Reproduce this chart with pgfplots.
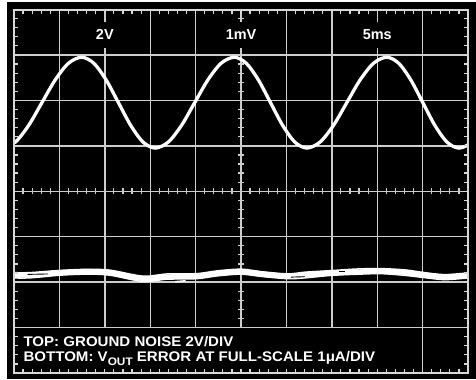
\documentclass[border=0pt]{standalone}
\usepackage{pgfplots}
\pgfplotsset{compat=1.18}
\usepackage{fontspec}
\setmainfont{Liberation Sans}
\definecolor{gridc}{RGB}{205,205,205}
\definecolor{bordc}{RGB}{215,215,215}
\begin{document}
\begin{tikzpicture}[x=1bp,y=1bp]
\fill[white] (0,0) rectangle (476,379);
\fill[black] (7,0) rectangle (476,377);
\begin{axis}[at={(14bp,6bp)},anchor=south west,scale only axis,
  width=454bp,height=363.5bp,xmin=0,xmax=10,ymin=0,ymax=8,
  hide axis,clip mode=individual]
% grid
\pgfplotsinvokeforeach{1,2,3,4,5,6,7,8}{\draw[gridc,line width=1.4bp] (axis cs:#1,1) -- (axis cs:#1,8);}
\draw[gridc,line width=1.4bp] (axis cs:9,0) -- (axis cs:9,8);
\pgfplotsinvokeforeach{1,2,3,4,5,6,7}{\draw[gridc,line width=1.4bp] (axis cs:0,#1) -- (axis cs:10,#1);}
% centre ticks
\pgfplotsinvokeforeach{1.2,1.4,...,7.9}{\draw[gridc,line width=1.2bp] (axis cs:5,#1) ++(-3bp,0bp) -- ++(6bp,0bp);}
\pgfplotsinvokeforeach{0.2,0.4,...,9.9}{\draw[gridc,line width=1.2bp] (axis cs:#1,4) ++(0bp,-3bp) -- ++(0bp,6bp);}
% scale labels
\node[fill=black,text=white,inner xsep=3bp,inner ysep=8bp,font=\fontsize{14.5}{14.5}\selectfont\bfseries] at (axis cs:2,7.445) {2V};
\node[fill=black,text=white,inner xsep=3bp,inner ysep=8bp,font=\fontsize{14.5}{14.5}\selectfont\bfseries] at (axis cs:5,7.445) {1mV};
\node[fill=black,text=white,inner xsep=3bp,inner ysep=8bp,font=\fontsize{14.5}{14.5}\selectfont\bfseries] at (axis cs:8,7.445) {5ms};
% top trace: ground noise
\addplot[white,line width=3.3bp,smooth] coordinates {
(-0.26,4.95) (0.032,5.084) (0.323,5.45) (0.615,5.95) (0.907,6.45) (1.198,6.816) (1.49,6.95)
(1.76,6.816) (2.03,6.45) (2.30,5.95) (2.57,5.45) (2.84,5.084) (3.11,4.95)
(3.40,5.084) (3.69,5.45) (3.98,5.95) (4.27,6.45) (4.56,6.816) (4.85,6.95)
(5.117,6.816) (5.383,6.45) (5.65,5.95) (5.917,5.45) (6.183,5.084) (6.45,4.95)
(6.743,5.084) (7.037,5.45) (7.33,5.95) (7.623,6.45) (7.917,6.816) (8.21,6.95)
(8.475,6.816) (8.74,6.45) (9.005,5.95) (9.27,5.45) (9.535,5.084) (9.80,4.95)
(10.092,5.084) (10.383,5.45)};
% bottom trace: VOUT error
\addplot[white,line width=5bp,smooth] coordinates {
(0,2.148) (0.352,2.159) (1.013,2.203) (1.608,2.236) (2.115,2.203) (2.841,2.081)
(3.370,2.115) (4.031,2.137) (4.471,2.192) (5.0,2.225) (5.485,2.181) (6.035,2.126)
(6.41,2.159) (6.982,2.203) (7.577,2.225) (8.084,2.247) (8.612,2.214) (9.053,2.148)
(9.493,2.115) (10,2.148)};
\addplot[white,line width=1.5bp,smooth] coordinates {
(0,2.208) (0.352,2.209) (1.013,2.258) (1.608,2.281) (2.115,2.263) (2.841,2.131)
(3.370,2.180) (4.031,2.187) (4.471,2.247) (5.0,2.285) (5.485,2.226) (6.035,2.181)
(6.41,2.219) (6.982,2.253) (7.577,2.290) (8.084,2.297) (8.612,2.269) (9.053,2.208)
(9.493,2.165) (10,2.203)};
\addplot[white,line width=1.5bp,smooth] coordinates {
(0,2.093) (0.352,2.094) (1.013,2.153) (1.608,2.176) (2.115,2.153) (2.841,2.016)
(3.370,2.065) (4.031,2.077) (4.471,2.137) (5.0,2.175) (5.485,2.121) (6.035,2.076)
(6.41,2.094) (6.982,2.148) (7.577,2.175) (8.084,2.187) (8.612,2.149) (9.053,2.098)
(9.493,2.055) (10,2.093)};
\addplot[white,line width=1.5bp] coordinates {(3.55,2.01) (3.78,2.03)};
\addplot[black,line width=0.9bp] coordinates {(0.30,2.17) (0.75,2.18)};
\addplot[black,line width=0.9bp] coordinates {(6.10,2.11) (6.40,2.12)};
\addplot[black,line width=0.9bp] coordinates {(7.15,2.23) (7.30,2.23)};
% border ticks
\pgfplotsinvokeforeach{0.2,0.4,...,7.9}{\draw[bordc,line width=1.2bp] (axis cs:0,#1) -- ++(4bp,0bp);
  \draw[bordc,line width=1.2bp] (axis cs:10,#1) -- ++(-4bp,0bp);}
\pgfplotsinvokeforeach{0.2,0.4,...,9.9}{\draw[bordc,line width=1.2bp] (axis cs:#1,0) -- ++(0bp,4bp);
  \draw[bordc,line width=1.2bp] (axis cs:#1,8) -- ++(0bp,-4bp);}
\draw[bordc,line width=2bp] (axis cs:0,0) rectangle (axis cs:10,8);
% legend text
\node[anchor=base west,text=white,inner sep=0pt,xscale=1.08,font=\fontsize{14}{14}\selectfont\bfseries] at (axis cs:0.205,0.573) {TOP: GROUND NOISE 2V/DIV};
\node[anchor=base west,text=white,inner sep=0pt,xscale=1.08,font=\fontsize{14}{14}\selectfont\bfseries] at (axis cs:0.205,0.25) {BOTTOM: V\raisebox{-3.5bp}{\fontsize{11}{11}\selectfont OUT} ERROR AT FULL-SCALE 1μA/DIV};
\end{axis}
\pgfresetboundingbox
\path[use as bounding box] (0,0) rectangle (476,379);
\end{tikzpicture}
\end{document}
